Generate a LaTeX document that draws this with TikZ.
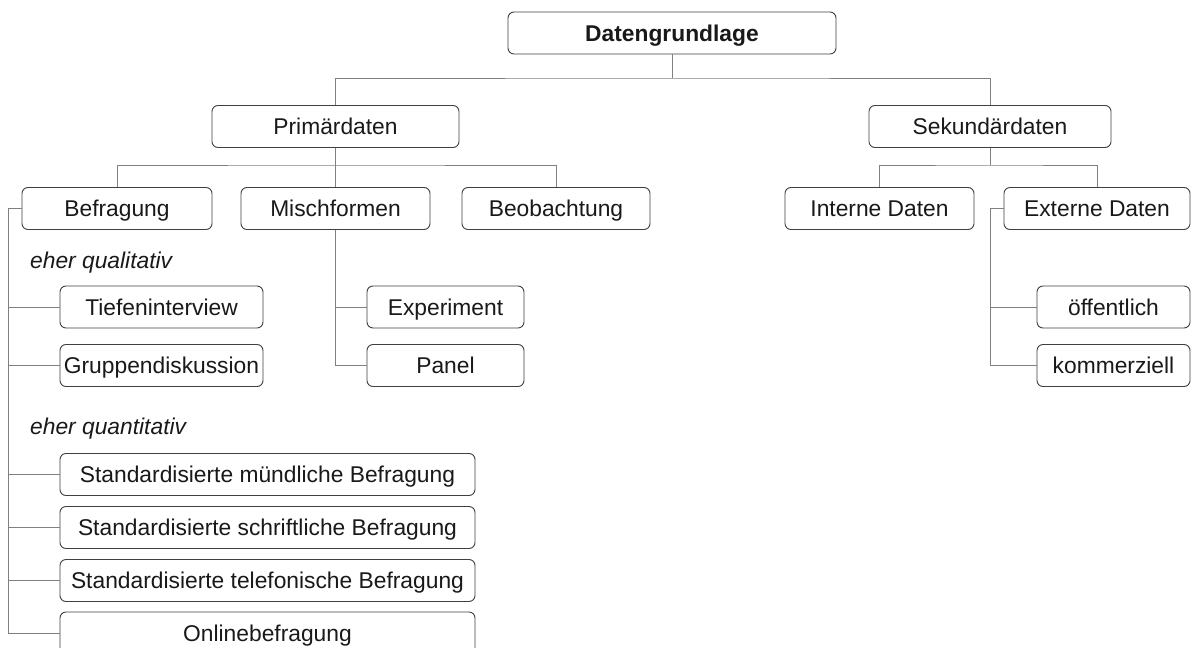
\documentclass[tikz,border=0pt]{standalone}
\usepackage{fontspec}
\setmainfont{Liberation Sans}
\begin{document}
\begin{tikzpicture}[x=1pt,y=-1pt,
  box/.style={draw=black!75, line width=0.9pt, rounded corners=6pt, fill=white,
    minimum height=42pt, inner sep=0pt, text height=16.3pt, text depth=0pt,
    font=\fontsize{22.8}{27}\selectfont, text=black!90},
  link/.style={draw=black!50, line width=0.9pt},
  note/.style={anchor=west, inner sep=0pt, text height=16.3pt, text depth=0pt,
    font=\fontsize{22.8}{27}\selectfont\itshape, text=black!90}]
\useasboundingbox (0,0) rectangle (1192,648);
\fill[white] (0,0) rectangle (1192,648);

% top level
\node[box, minimum width=328pt, font=\fontsize{22.8}{27}\selectfont\bfseries] (dg) at (672,33) {Datengrundlage};
\node[box, minimum width=247pt] (prim) at (335.5,126.5) {Primärdaten};
\node[box, minimum width=242pt] (sek) at (990,126.5) {Sekundärdaten};

% second level
\node[box, minimum width=190pt] (befr) at (117,208.5) {Befragung};
\node[box, minimum width=189pt] (misch) at (335.5,208.5) {Mischformen};
\node[box, minimum width=188pt] (beob) at (556,208.5) {Beobachtung};
\node[box, minimum width=189pt] (intern) at (879.5,208.5) {Interne Daten};
\node[box, minimum width=186pt] (extern) at (1097,208.5) {Externe Daten};

% survey methods
\node[note] (qual) at (30,260) {eher qualitativ};
\node[box, minimum width=203pt] (tiefen) at (161.5,307) {Tiefeninterview};
\node[box, minimum width=203pt] (grupp) at (161.5,365.5) {Gruppendiskussion};
\node[note] (quant) at (30,426) {eher quantitativ};
\node[box, minimum width=415pt] (smb) at (267.5,474.5) {Standardisierte mündliche Befragung};
\node[box, minimum width=415pt] (ssb) at (267.5,527.5) {Standardisierte schriftliche Befragung};
\node[box, minimum width=415pt] (stb) at (267.5,580.5) {Standardisierte telefonische Befragung};
\node[box, minimum width=415pt] (online) at (267.5,633) {Onlinebefragung};

% mixed forms
\node[box, minimum width=157pt] (exper) at (445.5,307) {Experiment};
\node[box, minimum width=157pt] (panel) at (445.5,365.5) {Panel};

% external data
\node[box, minimum width=153pt] (oeff) at (1113.5,307) {öffentlich};
\node[box, minimum width=153pt] (komm) at (1113.5,365.5) {kommerziell};

% junctions
\coordinate (j0) at (672,78);
\coordinate (j1) at (335.5,165);
\coordinate (j2) at (990,165);
\coordinate (bspine) at (8,633);
\coordinate (espine) at (990,365.5);

% tree connectors
\draw[link] (dg.south) -- (j0);
\draw[link] (prim.north) |- (j0) -| (sek.north);
\draw[link] (prim.south) -- (misch.north);
\draw[link] (befr.north) |- (j1) -| (beob.north);
\draw[link] (sek.south) -- (j2);
\draw[link] (intern.north) |- (j2) -| (extern.north);

% Befragung branch
\draw[link] (befr.west) -| (bspine) -- (online.west);
\foreach \n in {tiefen,grupp,smb,ssb,stb}
  \draw[link] (\n.west) -- (\n.west -| bspine);

% Mischformen branch
\draw[link] (misch.south) |- (panel.west);
\draw[link] (exper.west) -- (exper.west -| misch.south);

% Externe Daten branch
\draw[link] (extern.west) -| (espine) -- (komm.west);
\draw[link] (oeff.west) -- (oeff.west -| espine);
\end{tikzpicture}
\end{document}
